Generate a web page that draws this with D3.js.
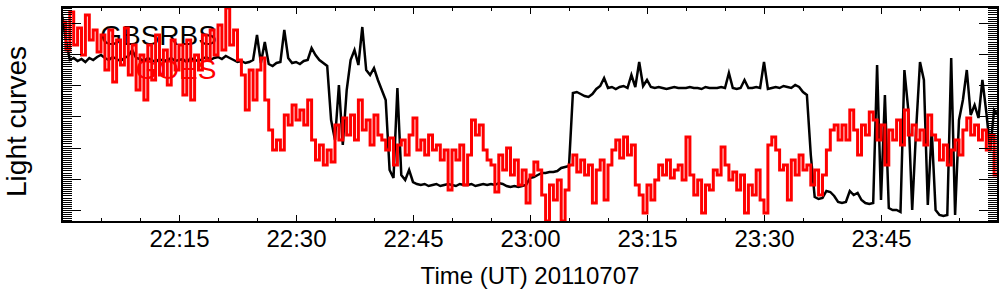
<!DOCTYPE html>
<html>
<head>
<meta charset="utf-8">
<script src="https://d3js.org/d3.v7.min.js"></script>
<style>
  body { margin: 0; background: #fff; }
  svg { display: block; font-family: "Liberation Sans", Arial, Helvetica, sans-serif; }
  .axis path, .axis line { stroke: #000; stroke-width: 1; shape-rendering: crispEdges; }
  .axis text { font-size: 24px; fill: #000; }
</style>
</head>
<body>
<div id="chart"></div>
<script>
// minutes after 22:00 UT, 2011-07-07 (30 s samples)
var sampleMinutes = d3.range(0, 120.5, 0.5);

// GBSRBS light curve (relative units)
var gbsrbs = [
  207,182,162,164,161,163,160,164,162,165,
  167,164,162,165,163,161,164,166,172,164,
  163,161,164,162,160,163,161,162,164,161,
  162,163,160,164,162,161,163,165,162,164,
  165,163,166,164,162,160,161,159,160,162,
  187,159,180,158,156,159,160,192,164,159,
  160,158,161,162,174,167,162,159,156,102,
  82,137,77,132,162,172,157,195,152,147,
  154,142,132,122,52,44,134,47,42,52,
  40,38,37,38,36,37,38,36,37,38,
  37,36,38,37,37,38,36,37,38,37,
  38,37,39,38,36,35,36,35,36,37,
  44,45,47,49,49,50,50,51,54,55,
  56,129,130,128,126,125,128,133,136,144,
  134,135,133,135,136,134,147,135,160,136,
  142,135,134,135,134,133,134,135,134,134,
  134,135,134,134,133,135,134,134,134,135,
  134,149,134,133,134,142,134,134,135,134,
  160,133,134,135,134,136,135,134,137,135,
  130,127,67,25,23,24,31,30,26,20,
  19,20,31,27,29,22,19,18,19,157,
  22,127,14,12,12,10,152,112,12,92,
  160,142,17,92,12,7,6,7,164,7,
  102,122,152,107,117,104,142,110,72,112,
  107
];

// GOES light curve (relative units)
var goes = [
  200,172,210,177,194,167,207,182,192,170,
  187,152,192,140,182,157,194,147,177,132,
  167,122,177,142,187,147,172,137,182,152,
  177,127,182,122,167,152,187,162,192,167,
  197,172,214,177,192,162,147,112,152,122,
  152,164,122,92,72,82,72,107,97,117,
  102,112,97,122,82,62,77,57,72,60,
  97,82,104,87,107,82,122,92,102,77,
  107,87,82,72,84,57,77,82,67,87,
  104,72,82,67,87,72,77,62,72,32,
  72,62,77,37,67,102,87,97,72,62,
  57,30,67,52,74,47,62,37,52,19,
  47,60,52,27,1,37,22,42,1,32,
  57,67,50,62,47,57,19,52,62,22,
  57,72,82,64,85,67,77,37,27,9,
  37,22,42,57,47,62,44,52,57,42,
  85,47,27,42,9,37,32,52,47,75,
  57,42,50,32,47,9,37,27,52,22,
  9,77,85,72,52,57,22,62,47,67,
  52,57,37,52,27,47,72,92,97,82,
  97,82,112,92,67,97,87,110,102,82,
  97,57,92,82,102,77,112,87,97,82,
  92,77,107,87,82,62,77,57,72,82,
  67,92,104,87,97,82,92,72,87,47,
  87
];

var xMajorTicks = [15, 30, 45, 60, 75, 90, 105];
var xTickLabels = ["22:15", "22:30", "22:45", "23:00", "23:15", "23:30", "23:45"];
var xMinorStep = 5;
var yMajorTicks = [12, 43.2, 74.4, 105.6, 136.8, 168, 199.2];
var yMinorPerMajor = 15;

var W = 1004, H = 296;
var margin = { top: 7, right: 6, bottom: 74, left: 62 };
var width = W - margin.left - margin.right;
var height = H - margin.top - margin.bottom;

var svg = d3.select("#chart").append("svg")
  .attr("width", W)
  .attr("height", H);

var g = svg.append("g")
  .attr("transform", "translate(" + margin.left + "," + margin.top + ")");

var x = d3.scaleLinear().domain([0, 120]).range([0, width]);
var y = d3.scaleLinear().domain([0, 215]).range([height, 0]);

var xMinor = d3.range(0, 120 + 0.01, xMinorStep).filter(function (m) { return xMajorTicks.indexOf(m) < 0; });
var yStep = (yMajorTicks[1] - yMajorTicks[0]) / yMinorPerMajor;
var yMinor = d3.range(yMajorTicks[0] - yStep * 5, 215, yStep);

g.append("defs").append("clipPath").attr("id", "plot")
  .append("rect").attr("width", width).attr("height", height);

// labels inside the plot, under the curves
g.append("text")
  .attr("x", x(4.9)).attr("y", 38)
  .attr("font-size", 28)
  .attr("fill", "#000")
  .text("GBSRBS");
g.append("text")
  .attr("x", x(19.8)).attr("y", 72)
  .attr("text-anchor", "end")
  .attr("font-size", 28)
  .attr("fill", "#ff0000")
  .text("GOES");

var lineBlack = d3.line()
  .x(function (d, i) { return x(sampleMinutes[i]); })
  .y(function (d) { return y(d); });

var lineRed = d3.line()
  .curve(d3.curveStepAfter)
  .x(function (d, i) { return x(sampleMinutes[i]); })
  .y(function (d) { return y(d); });

var plot = g.append("g").attr("clip-path", "url(#plot)");
plot.append("path")
  .datum(gbsrbs)
  .attr("fill", "none")
  .attr("stroke", "#000")
  .attr("stroke-width", 2.5)
  .attr("d", lineBlack);
plot.append("path")
  .datum(goes)
  .attr("fill", "none")
  .attr("stroke", "#ff0000")
  .attr("stroke-width", 3)
  .attr("d", lineRed);

// bottom axis: major with labels, minor
g.append("g").attr("class", "axis")
  .attr("transform", "translate(0," + height + ")")
  .call(d3.axisBottom(x).tickValues(xMajorTicks).tickSize(-7).tickSizeOuter(0).tickPadding(8)
    .tickFormat(function (d, i) { return xTickLabels[i]; }));
g.append("g").attr("class", "axis")
  .attr("transform", "translate(0," + height + ")")
  .call(d3.axisBottom(x).tickValues(xMinor).tickSize(-4).tickSizeOuter(0).tickFormat(""));

// top axis
g.append("g").attr("class", "axis")
  .call(d3.axisTop(x).tickValues(xMajorTicks).tickSize(-7).tickSizeOuter(0).tickFormat(""));
g.append("g").attr("class", "axis")
  .call(d3.axisTop(x).tickValues(xMinor).tickSize(-4).tickSizeOuter(0).tickFormat(""));

// left and right axes
g.append("g").attr("class", "axis")
  .call(d3.axisLeft(y).tickValues(yMajorTicks).tickSize(-19).tickSizeOuter(0).tickFormat(""));
g.append("g").attr("class", "axis")
  .call(d3.axisLeft(y).tickValues(yMinor).tickSize(-10).tickSizeOuter(0).tickFormat(""));
g.append("g").attr("class", "axis")
  .attr("transform", "translate(" + width + ",0)")
  .call(d3.axisRight(y).tickValues(yMajorTicks).tickSize(-19).tickSizeOuter(0).tickFormat(""));
g.append("g").attr("class", "axis")
  .attr("transform", "translate(" + width + ",0)")
  .call(d3.axisRight(y).tickValues(yMinor).tickSize(-10).tickSizeOuter(0).tickFormat(""));

g.append("rect")
  .attr("width", width).attr("height", height)
  .attr("fill", "none").attr("stroke", "#000").attr("stroke-width", 1.5)
  .attr("shape-rendering", "crispEdges");

// axis titles
g.append("text")
  .attr("x", width / 2).attr("y", height + 62)
  .attr("text-anchor", "middle")
  .attr("font-size", 24)
  .text("Time (UT) 20110707");

svg.append("text")
  .attr("transform", "translate(26," + (margin.top + height / 2 + 7) + ") rotate(-90)")
  .attr("text-anchor", "middle")
  .attr("font-size", 28)
  .text("Light curves");
</script>
</body>
</html>
